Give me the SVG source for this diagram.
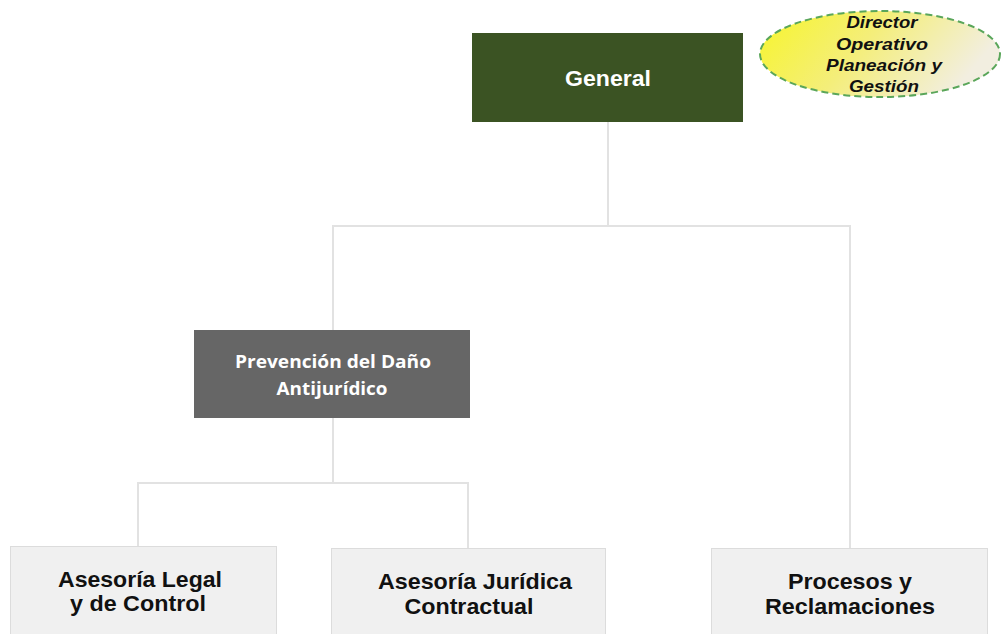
<svg xmlns="http://www.w3.org/2000/svg" width="1001" height="634" viewBox="0 0 1001 634">
<defs>
<linearGradient id="ellGrad" x1="0" y1="0" x2="1" y2="0.3">
<stop offset="0" stop-color="#f7f52a"/>
<stop offset="0.5" stop-color="#f4ee7a"/>
<stop offset="1" stop-color="#f2eee0"/>
</linearGradient>
<style>
.conn{fill:none;stroke:#e2e2e2;stroke-width:2}
.leaf{fill:#f0f0f0;stroke:#dcdcdc;stroke-width:1}
.leafText{font-family:"Liberation Sans",Arial,sans-serif;font-weight:bold;font-size:22px;fill:#111;text-anchor:middle}
.noteText{font-family:"Liberation Sans",Arial,sans-serif;font-weight:bold;font-style:italic;font-size:17px;fill:#111;text-anchor:middle}
.midText{font-family:"Open Sans","Noto Sans",sans-serif;font-weight:bold;font-size:17px;fill:#ffffff;text-anchor:middle}
</style>
</defs>
<rect width="1001" height="634" fill="#ffffff"/>
<g id="connectors">
<path class="conn" d="M608 122 V226 M333 330 V226 H850 V548"/>
<path class="conn" d="M333 418 V483 M138 546 V483 H468 V548"/>
</g>
<g id="general">
<rect x="472" y="33" width="271" height="89" fill="#3b5323"/>
<text x="608" y="86" font-family="'Liberation Sans',Arial,sans-serif" font-weight="bold" font-size="22" fill="#ffffff" text-anchor="middle" textLength="86" lengthAdjust="spacingAndGlyphs">General</text>
</g>
<g id="director">
<ellipse cx="880" cy="54" rx="120" ry="43" fill="url(#ellGrad)" stroke="#5aa65a" stroke-width="2" stroke-dasharray="7,4"/>
<text class="noteText" x="882" y="28" textLength="71" lengthAdjust="spacingAndGlyphs">Director</text>
<text class="noteText" x="882" y="50" textLength="92" lengthAdjust="spacingAndGlyphs">Operativo</text>
<text class="noteText" x="884" y="71" textLength="116" lengthAdjust="spacingAndGlyphs">Planeación y</text>
<text class="noteText" x="884" y="92" textLength="70" lengthAdjust="spacingAndGlyphs">Gestión</text>
</g>
<g id="prevencion">
<rect x="194" y="330" width="276" height="88" fill="#666666"/>
<text class="midText" x="333" y="368" textLength="196" lengthAdjust="spacingAndGlyphs">Prevención del Daño</text>
<text class="midText" x="332" y="395" textLength="111" lengthAdjust="spacingAndGlyphs">Antijurídico</text>
</g>
<g id="asesoria-legal">
<rect class="leaf" x="10.5" y="546.5" width="266" height="95"/>
<text class="leafText" x="140" y="587" textLength="164" lengthAdjust="spacingAndGlyphs">Asesoría Legal</text>
<text class="leafText" x="138" y="611" textLength="136" lengthAdjust="spacingAndGlyphs">y de Control</text>
</g>
<g id="asesoria-juridica">
<rect class="leaf" x="331.5" y="548.5" width="274" height="95"/>
<text class="leafText" x="475" y="589" textLength="194" lengthAdjust="spacingAndGlyphs">Asesoría Jurídica</text>
<text class="leafText" x="469" y="614" textLength="129" lengthAdjust="spacingAndGlyphs">Contractual</text>
</g>
<g id="procesos">
<rect class="leaf" x="711.5" y="548.5" width="276" height="95"/>
<text class="leafText" x="850" y="589" textLength="124" lengthAdjust="spacingAndGlyphs">Procesos y</text>
<text class="leafText" x="850" y="614" textLength="170" lengthAdjust="spacingAndGlyphs">Reclamaciones</text>
</g>
</svg>
